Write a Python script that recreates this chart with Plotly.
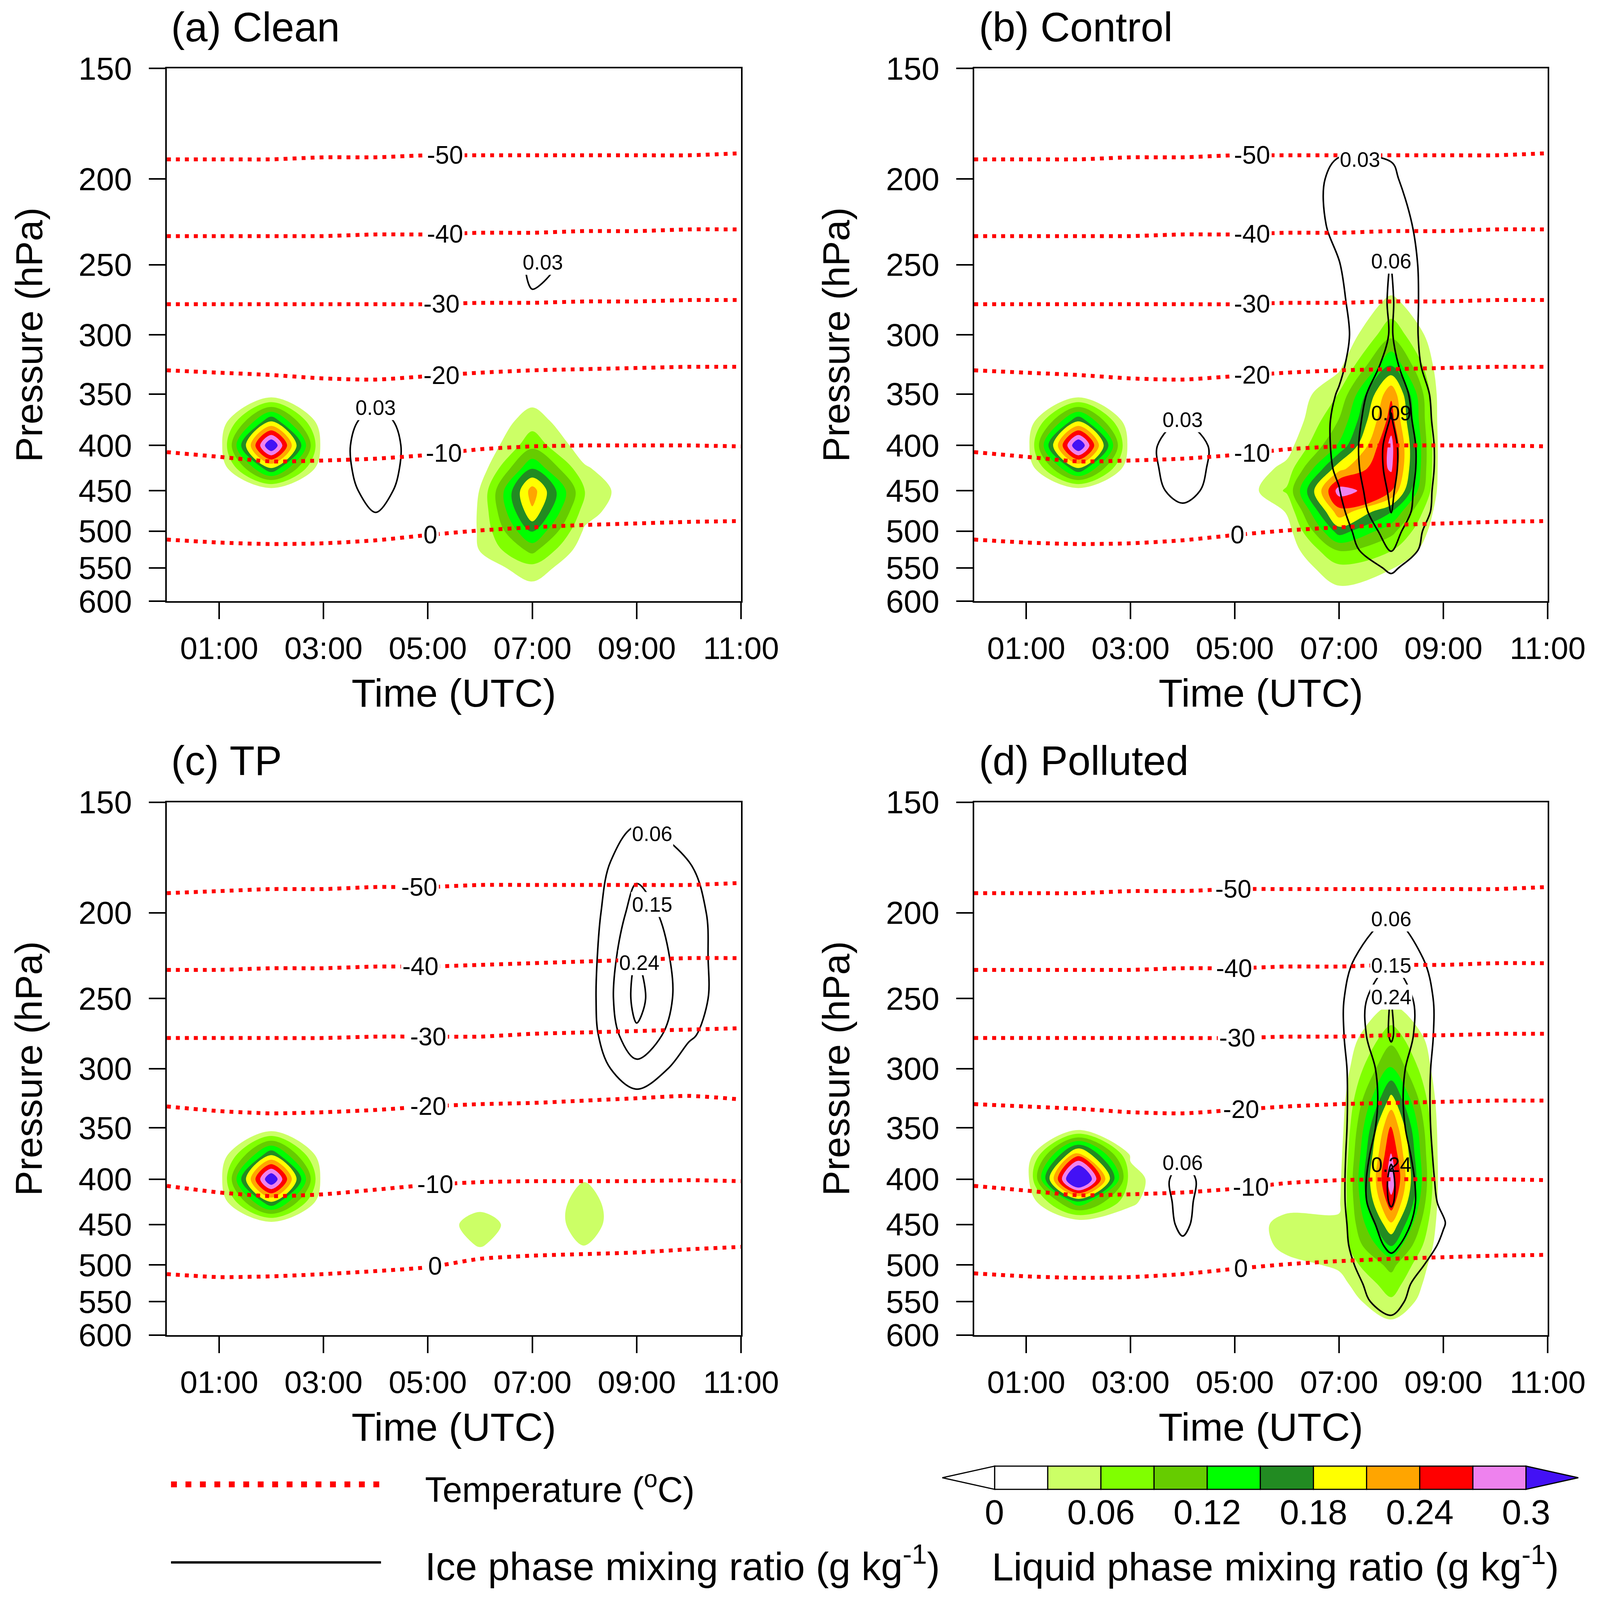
import numpy as np
import plotly.graph_objects as go

W, H = 4205, 4535  # reference size; all positions below are fractions of it
FONT = "Liberation Sans, Arial, sans-serif"

# model grid: hourly columns, 25 hPa rows from 150 (top) to 600 hPa
HOURS = list(range(12))
LEVELS = [150, 175, 200, 225, 250, 275, 300, 325, 350, 375, 400, 425, 450, 475, 500, 525, 550, 575, 600]

X_TICKS = [1, 3, 5, 7, 9, 11]
X_TICK_TEXT = ["01:00", "03:00", "05:00", "07:00", "09:00", "11:00"]
P_TICKS = [150, 200, 250, 300, 350, 400, 450, 500, 550, 600]

# liquid phase mixing ratio (g/kg), one profile (150..600 hPa) per hour, missing hours are 0
LIQ_CLEAN = {
    1: [0, 0, 0, 0, 0, 0, 0, 0, 0, 0, .01, 0, 0, 0, 0, 0, 0, 0, 0],
    2: [0, 0, 0, 0, 0, 0, 0, 0, .01, .175, .34, .175, .01, 0, 0, 0, 0, 0, 0],
    3: [0, 0, 0, 0, 0, 0, 0, 0, 0, 0, .01, 0, 0, 0, 0, 0, 0, 0, 0],
    6: [0, 0, 0, 0, 0, 0, 0, 0, 0, 0, 0, .01, .031, .032, .032, .031, .01, 0, 0],
    7: [0, 0, 0, 0, 0, 0, 0, 0, .015, .045, .08, .15, .225, .205, .155, .10, .05, .025, 0],
    8: [0, 0, 0, 0, 0, 0, 0, 0, 0, 0, .01, .035, .062, .045, .025, .01, 0, 0, 0],
}
LIQ_CONTROL = {
    1: [0, 0, 0, 0, 0, 0, 0, 0, 0, 0, .01, 0, 0, 0, 0, 0, 0, 0, 0],
    2: [0, 0, 0, 0, 0, 0, 0, 0, .01, .175, .34, .175, .01, 0, 0, 0, 0, 0, 0],
    3: [0, 0, 0, 0, 0, 0, 0, 0, 0, 0, .01, 0, 0, 0, 0, 0, 0, 0, 0],
    6: [0, 0, 0, 0, 0, 0, 0, 0, 0, 0, .015, .04, .065, .032, .015, .01, .005, 0, 0],
    7: [0, 0, 0, 0, 0, 0, 0, .021, .062, .092, .125, .20, .285, .23, .165, .092, .052, .031, .01],
    8: [0, 0, 0, 0, 0, .036, .082, .152, .235, .255, .28, .275, .242, .152, .10, .062, .032, .01, 0],
}
LIQ_TP = {
    1: [0, 0, 0, 0, 0, 0, 0, 0, 0, 0, .01, 0, 0, 0, 0, 0, 0, 0, 0],
    2: [0, 0, 0, 0, 0, 0, 0, 0, .01, .175, .34, .175, .01, 0, 0, 0, 0, 0, 0],
    3: [0, 0, 0, 0, 0, 0, 0, 0, 0, 0, .01, 0, 0, 0, 0, 0, 0, 0, 0],
    6: [0, 0, 0, 0, 0, 0, 0, 0, 0, 0, 0, .015, .05, .033, 0, 0, 0, 0, 0],
    8: [0, 0, 0, 0, 0, 0, 0, 0, 0, 0, .028, .044, .046, .032, 0, 0, 0, 0, 0],
}
LIQ_POLLUTED = {
    1: [0, 0, 0, 0, 0, 0, 0, 0, 0, 0, .01, 0, 0, 0, 0, 0, 0, 0, 0],
    2: [0, 0, 0, 0, 0, 0, 0, 0, .013, .229, .39, .14, 0, 0, 0, 0, 0, 0, 0],
    3: [0, 0, 0, 0, 0, 0, 0, 0, 0, .025, .042, .035, .01, 0, 0, 0, 0, 0, 0],
    6: [0, 0, 0, 0, 0, 0, 0, 0, 0, 0, 0, .015, .045, .04, .02, 0, 0, 0, 0],
    7: [0, 0, 0, 0, 0, 0, .005, .008, .01, .015, .02, .025, .035, .04, .035, .02, .01, 0, 0],
    8: [0, 0, 0, 0, .02, .075, .125, .19, .245, .272, .29, .26, .205, .152, .10, .075, .055, .031, .01],
}

# ice phase mixing ratio (g/kg), same layout
ICE_CLEAN = {
    4: [0, 0, 0, 0, 0, 0, 0, 0, .015, .045, .058, .055, .045, .031, .01, 0, 0, 0, 0],
    7: [0, 0, 0, 0, .034, .028, 0, 0, 0, 0, 0, 0, 0, 0, 0, 0, 0, 0, 0],
    8: [0, 0, 0, 0, .025, .02, 0, 0, 0, 0, 0, 0, 0, 0, 0, 0, 0, 0, 0],
}
ICE_CONTROL = {
    4: [0, 0, 0, 0, 0, 0, 0, 0, 0, .031, .058, .055, .045, .02, 0, 0, 0, 0, 0],
    7: [0, .015, .041, .04, .029, .025, .022, .025, .032, .036, .036, .034, .029, .022, .015, .01, .005, 0, 0],
    8: [0, .02, .035, .05, .061, .063, .062, .07, .085, .092, .10, .10, .095, .091, .075, .062, .035, .02, .01],
    9: [0, 0, 0, 0, 0, 0, 0, 0, .01, .012, .015, .015, .012, .01, 0, 0, 0, 0, 0],
}
ICE_TP = {
    9: [.02, .12, .19, .245, .27, .225, .12, .03, 0, 0, 0, 0, 0, 0, 0, 0, 0, 0, 0],
    10: [.005, .06, .09, .095, .095, .07, .02, 0, 0, 0, 0, 0, 0, 0, 0, 0, 0, 0, 0],
}
ICE_POLLUTED = {
    4: [0, 0, 0, 0, 0, 0, 0, 0, 0, .05, .08, .075, .07, .052, .03, 0, 0, 0, 0],
    7: [0, 0, 0, .03, .04, .04, .035, .035, .035, .035, .035, .035, .035, .035, .035, .035, .03, .01, 0],
    8: [0, 0, .05, .13, .245, .25, .20, .19, .20, .23, .255, .25, .20, .17, .12, .09, .08, .055, .03],
    9: [0, 0, 0, .015, .015, .015, .015, .015, .015, .015, .02, .035, .065, .045, .025, .01, 0, 0, 0],
}

# isotherms: pressure (hPa) of each temperature line at every hour
ISO_TEMPS = [-50, -40, -30, -20, -10, 0]
ISO_ABD = {
    -50: [190, 190, 190, 189, 189, 188, 188, 188, 188, 188, 188, 187],
    -40: [232, 232, 232, 232, 231, 231, 230, 230, 229, 229, 228, 228],
    -30: [277, 277, 277, 277, 277, 277, 276, 276, 275, 275, 274, 274],
    -20: [329, 331, 333, 336, 337, 334, 331, 329, 328, 327, 326, 326],
    -10: [407, 412, 417, 416, 414, 410, 404, 401, 400, 400, 400, 401],
    0: [511, 515, 517, 516, 512, 505, 499, 495, 492, 490, 488, 487],
}
ISO_C = {
    -50: [190, 189, 188, 188, 187, 187, 186, 186, 186, 186, 186, 185],
    -40: [232, 232, 231, 231, 230, 230, 229, 228, 227, 226, 225, 225],
    -30: [277, 277, 277, 277, 276, 276, 276, 274, 273, 272, 271, 270],
    -20: [331, 335, 337, 336, 334, 331, 329, 328, 326, 324, 322, 325],
    -10: [407, 414, 418, 416, 411, 406, 403, 402, 402, 402, 401, 402],
    0: [512, 516, 515, 512, 508, 503, 492, 488, 486, 484, 480, 477],
}
# time (h) where each isotherm label sits
ISO_LABEL_X_A = [5.33, 5.33, 5.26, 5.26, 5.31, 5.05]
ISO_LABEL_X_B = [5.33, 5.33, 5.33, 5.33, 5.33, 5.05]
ISO_LABEL_X_C = [4.84, 4.86, 5.01, 5.01, 5.14, 5.14]
ISO_LABEL_X_D = [4.97, 4.99, 5.05, 5.12, 5.31, 5.12]

# ice contour labels: (level, time of label, search from pressure)
ICE_LABELS_A = [(0.03, 4.0, 150), (0.03, 7.2, 150)]
ICE_LABELS_B = [(0.03, 7.4, 150), (0.06, 8.0, 150), (0.09, 8.0, 150), (0.03, 4.0, 150)]
ICE_LABELS_C = [(0.06, 9.3, 150), (0.15, 9.3, 150), (0.24, 9.05, 150)]
ICE_LABELS_D = [(0.06, 8.0, 150), (0.15, 8.0, 150), (0.24, 8.0, 150), (0.24, 8.0, 300), (0.06, 4.0, 150)]

LIQ_COLORS = ["#FFFFFF", "#CCFF66", "#80FF00", "#66CC00", "#00FF00", "#228B22",
              "#FFFF00", "#FFA500", "#FF0000", "#EE82EE", "#4311F5"]
CBAR_TICKS = [0, 0.06, 0.12, 0.18, 0.24, 0.3]

PANELS = [
    dict(title="(a) Clean", liq=LIQ_CLEAN, ice=ICE_CLEAN, ice_start=0.03, ice_step=0.03,
         iso=ISO_ABD, iso_x=ISO_LABEL_X_A, ice_labels=ICE_LABELS_A, col=0, row=0),
    dict(title="(b) Control", liq=LIQ_CONTROL, ice=ICE_CONTROL, ice_start=0.03, ice_step=0.03,
         iso=ISO_ABD, iso_x=ISO_LABEL_X_B, ice_labels=ICE_LABELS_B, col=1, row=0),
    dict(title="(c) TP", liq=LIQ_TP, ice=ICE_TP, ice_start=0.06, ice_step=0.09,
         iso=ISO_C, iso_x=ISO_LABEL_X_C, ice_labels=ICE_LABELS_C, col=0, row=1),
    dict(title="(d) Polluted", liq=LIQ_POLLUTED, ice=ICE_POLLUTED, ice_start=0.06, ice_step=0.09,
         iso=ISO_ABD, iso_x=ISO_LABEL_X_D, ice_labels=ICE_LABELS_D, col=1, row=1),
]

# page layout, in reference pixels
COL_X = [(432, 1947), (2562, 4075)]
ROW_Y = [(186, 1702), (2274, 3790)]
TITLE_X = [441, 2572]
TITLE_Y = [68, 2156]
XTITLE_Y = [1963, 4051]
YTITLE_X = [68, 2198]
XLABEL_GAP = 134   # axis line to centre of time labels
YLABEL_GAP = 90    # axis line to right edge of pressure labels


def px(x):
    return x / W


def py(y):
    return 1 - y / H


def column_grid(cols):
    z = np.zeros((len(LEVELS), len(HOURS)))
    for h, col in cols.items():
        z[:, HOURS.index(h)] = col
    return z


def profile_at(z, hour):
    return np.array([np.interp(hour, HOURS, row) for row in z])


def contour_top(z, level, hour, p_from):
    col = profile_at(z, hour)
    prev = None
    for i, p in enumerate(LEVELS):
        if p < p_from:
            continue
        if col[i] >= level:
            if prev is None:
                return p
            f = (level - col[prev]) / (col[i] - col[prev])
            return LEVELS[prev] + f * (p - LEVELS[prev])
        prev = i
    return None


def text(x, y, s, size, **kw):
    d = dict(x=x, y=y, text=s, showarrow=False, font=dict(family=FONT, size=size, color="black"))
    d.setdefault("xref", "paper")
    d.setdefault("yref", "paper")
    d.update(kw)
    return d


colorscale = [[i / 10, c] for i, c in enumerate(LIQ_COLORS)]

fig = go.Figure()
annotations = []
layout = {}

for k, pan in enumerate(PANELS):
    xr = "x" if k == 0 else f"x{k + 1}"
    yr = "y" if k == 0 else f"y{k + 1}"
    liq = column_grid(pan["liq"])
    ice = column_grid(pan["ice"])

    fig.add_trace(go.Contour(
        x=HOURS, y=LEVELS, z=liq, xaxis=xr, yaxis=yr,
        autocontour=False,
        contours=dict(start=0.03, end=0.30, size=0.03, coloring="fill", showlines=False),
        colorscale=colorscale, line=dict(width=0), showscale=False, hoverinfo="skip"))

    for t in ISO_TEMPS:
        fig.add_trace(go.Scatter(
            x=HOURS, y=pan["iso"][t], xaxis=xr, yaxis=yr, mode="lines",
            line=dict(color="#FF0000", width=10, dash="10px,13px", shape="spline", smoothing=0.6),
            showlegend=False, hoverinfo="skip"))

    fig.add_trace(go.Contour(
        x=HOURS, y=LEVELS, z=ice, xaxis=xr, yaxis=yr,
        autocontour=False,
        contours=dict(start=pan["ice_start"], end=0.6, size=pan["ice_step"], coloring="none"),
        line=dict(color="black", width=4, smoothing=1), showscale=False, hoverinfo="skip"))

    # isotherm labels
    for t, lx in zip(ISO_TEMPS, pan["iso_x"]):
        p = np.interp(lx, HOURS, pan["iso"][t])
        annotations.append(text(lx, np.log10(p), str(t), 64, xref=xr, yref=yr,
                                bgcolor="white", borderpad=3))

    # ice labels at the top of each contour; blank the line only where the fill is white
    for level, lx, p_from in pan["ice_labels"]:
        p = contour_top(ice, level, lx, p_from)
        if p is None:
            continue
        on_fill = np.interp(p, LEVELS, profile_at(liq, lx)) >= 0.03
        annotations.append(text(lx, np.log10(p), f"{level:.2f}", 53, xref=xr, yref=yr,
                                bgcolor="rgba(0,0,0,0)" if on_fill else "white", borderpad=2))

    x0, x1 = COL_X[pan["col"]]
    y0, y1 = ROW_Y[pan["row"]]
    key = "" if k == 0 else str(k + 1)
    layout["xaxis" + key] = dict(
        domain=[px(x0), px(x1)], anchor=yr, range=[0, 11], tickvals=X_TICKS,
        ticks="outside", ticklen=42, tickwidth=4, tickcolor="black", showline=True,
        linecolor="black", linewidth=4, mirror=True, showgrid=False, zeroline=False,
        showticklabels=False)
    layout["yaxis" + key] = dict(
        domain=[py(y1), py(y0)], anchor=xr, type="log",
        range=[np.log10(600), np.log10(150)], tickvals=P_TICKS,
        ticks="outside", ticklen=42, tickwidth=4, tickcolor="black", showline=True,
        linecolor="black", linewidth=4, mirror=True, showgrid=False, zeroline=False,
        showticklabels=False)

    # tick labels
    for tv, tt in zip(X_TICKS, X_TICK_TEXT):
        annotations.append(text(tv, py(y1 + XLABEL_GAP), tt, 80, xref=xr, yanchor="middle"))
    for p in P_TICKS:
        annotations.append(text(px(x0 - YLABEL_GAP), np.log10(p), str(p), 82, yref=yr,
                                xanchor="right", yanchor="middle"))

    annotations.append(text(px(TITLE_X[pan["col"]]), py(TITLE_Y[pan["row"]]), pan["title"], 105,
                            xanchor="left", yanchor="middle"))
    annotations.append(text(px((x0 + x1) / 2), py(XTITLE_Y[pan["row"]]), "Time (UTC)", 101,
                            xanchor="center", yanchor="middle"))
    annotations.append(text(px(YTITLE_X[pan["col"]]), py((y0 + y1) / 2), "Pressure (hPa)", 97,
                            xanchor="center", yanchor="middle", textangle=-90))

# line legend (bottom left)
shapes = [
    dict(type="line", xref="paper", yref="paper", x0=px(443), x1=px(997), y0=py(4215), y1=py(4215),
         line=dict(color="#FF0000", width=15, dash="15px,22px")),
    dict(type="line", xref="paper", yref="paper", x0=px(443), x1=px(997), y0=py(4437), y1=py(4437),
         line=dict(color="black", width=6)),
]
annotations.append(text(px(1111), py(4223), "Temperature (<sup>o</sup>C)", 90,
                        xanchor="left", yanchor="middle"))
annotations.append(text(px(1111), py(4440), "Ice phase mixing ratio (g kg<sup>-1</sup>)", 100,
                        xanchor="left", yanchor="middle"))

# colour bar (bottom right)
CB_X0, CB_W, CB_Y0, CB_Y1, CB_TIP = 2616, 140.2, 4163, 4229, 138
for i in range(10):
    shapes.append(dict(
        type="rect", xref="paper", yref="paper",
        x0=px(CB_X0 + i * CB_W), x1=px(CB_X0 + (i + 1) * CB_W), y0=py(CB_Y1), y1=py(CB_Y0),
        fillcolor=LIQ_COLORS[i], line=dict(color="black", width=3)))
cb_mid = (CB_Y0 + CB_Y1) / 2
cb_end = CB_X0 + 10 * CB_W
shapes.append(dict(
    type="path", xref="paper", yref="paper", fillcolor="white", line=dict(color="black", width=3),
    path=f"M {px(CB_X0)},{py(CB_Y0)} L {px(CB_X0 - CB_TIP)},{py(cb_mid)} L {px(CB_X0)},{py(CB_Y1)} Z"))
shapes.append(dict(
    type="path", xref="paper", yref="paper", fillcolor=LIQ_COLORS[10], line=dict(color="black", width=3),
    path=f"M {px(cb_end)},{py(CB_Y0)} L {px(cb_end + CB_TIP)},{py(cb_mid)} L {px(cb_end)},{py(CB_Y1)} Z"))
for v in CBAR_TICKS:
    annotations.append(text(px(CB_X0 + v / 0.03 * CB_W), py(4294), f"{v:g}", 89,
                            xanchor="center", yanchor="middle"))
annotations.append(text(px(3357), py(4442), "Liquid phase mixing ratio (g kg<sup>-1</sup>)", 100,
                        xanchor="center", yanchor="middle"))

# size follows the browser window so the whole page is in view
fig.update_layout(
    autosize=True, margin=dict(l=0, r=0, t=0, b=0),
    paper_bgcolor="white", plot_bgcolor="white", showlegend=False,
    annotations=annotations, shapes=shapes, **layout)

fig.write_html("out.html")
